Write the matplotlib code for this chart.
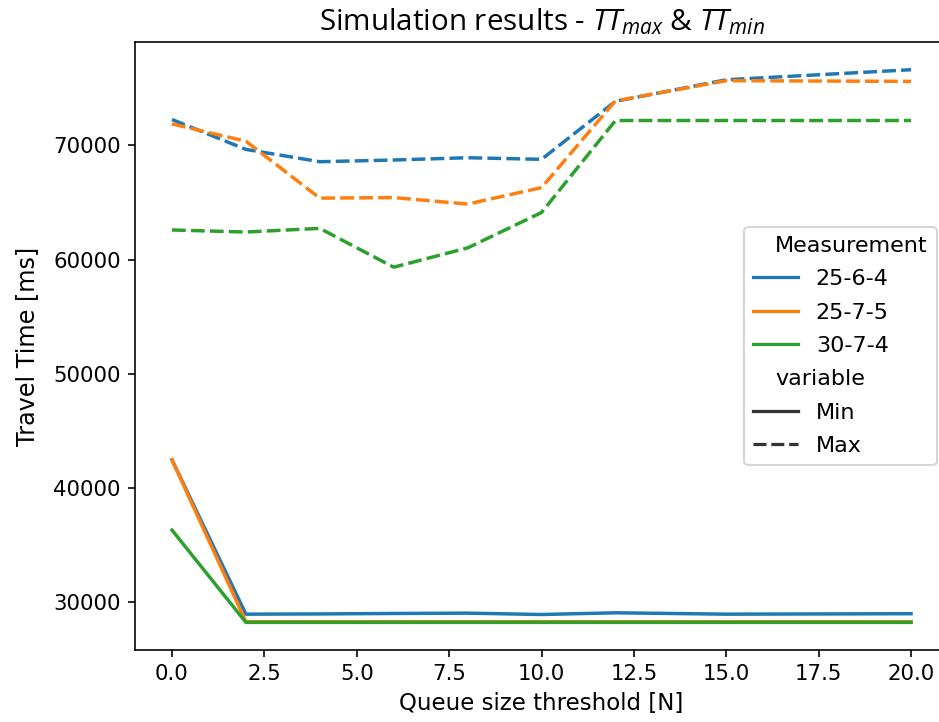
import numpy as np
import pandas as pd
import matplotlib
matplotlib.use("Agg")
import matplotlib.pyplot as plt
import seaborn as sns

# Queue size thresholds
thresholds = [0, 2, 4, 6, 8, 10, 12, 15, 20]

# Travel time minimum per measurement
min_25_6_4 = [42450, 28930, 28950, 28990, 29020, 28900, 29050, 28930, 28970]
min_25_7_5 = [42450, 28270, 28270, 28270, 28270, 28270, 28270, 28270, 28270]
min_30_7_4 = [36300, 28210, 28210, 28210, 28210, 28210, 28210, 28210, 28210]

# Travel time maximum per measurement
max_25_6_4 = [72270, 69650, 68570, 68720, 68920, 68780, 73860, 75750, 76630]
max_25_7_5 = [71880, 70370, 65380, 65430, 64860, 66300, 73900, 75670, 75610]
max_30_7_4 = [62590, 62410, 62730, 59330, 61020, 64120, 72180, 72180, 72180]

measurements = ["25-6-4", "25-7-5", "30-7-4"]
mins = [min_25_6_4, min_25_7_5, min_30_7_4]
maxs = [max_25_6_4, max_25_7_5, max_30_7_4]

rows = []
for name, mn, mx in zip(measurements, mins, maxs):
    for t, a, b in zip(thresholds, mn, mx):
        rows.append([t, name, "Min", a])
        rows.append([t, name, "Max", b])
df = pd.DataFrame(rows, columns=["Threshold", "Measurement", "variable", "value"])

plt.rcParams["mathtext.fontset"] = "custom"
plt.rcParams["mathtext.it"] = "Open Sans:italic"
plt.rcParams["mathtext.rm"] = "Open Sans"

dpi = 146
fig = plt.figure(figsize=(939 / dpi, 722 / dpi), dpi=dpi)
ax = fig.add_axes([0.1438, 0.0997, 0.8658, 0.842])

sns.lineplot(data=df, x="Threshold", y="value", hue="Measurement",
             style="variable", style_order=["Min", "Max"], linewidth=1.7, ax=ax)

ax.set_title(r"Simulation results - $TT_{max}$ & $TT_{min}$",
             fontfamily="Open Sans", fontsize=14.6)
ax.set_xlabel("Queue size threshold [N]", fontsize=11.3)
ax.set_ylabel("Travel Time [ms]", fontsize=11.8, labelpad=7)
ax.tick_params(labelsize=10.5)

leg = ax.legend(loc="center right", fontsize=11, labelspacing=0.6)
for line in leg.get_lines():
    line.set_linewidth(1.6)

# subtitles sit left of the normal labels
for col in leg._legend_handle_box.get_children():
    for row in col.get_children():
        da, ta = row.get_children()
        if ta._text.get_text() in ("Measurement", "variable"):
            da.width = 2

fig.savefig("out.png", dpi=dpi)
